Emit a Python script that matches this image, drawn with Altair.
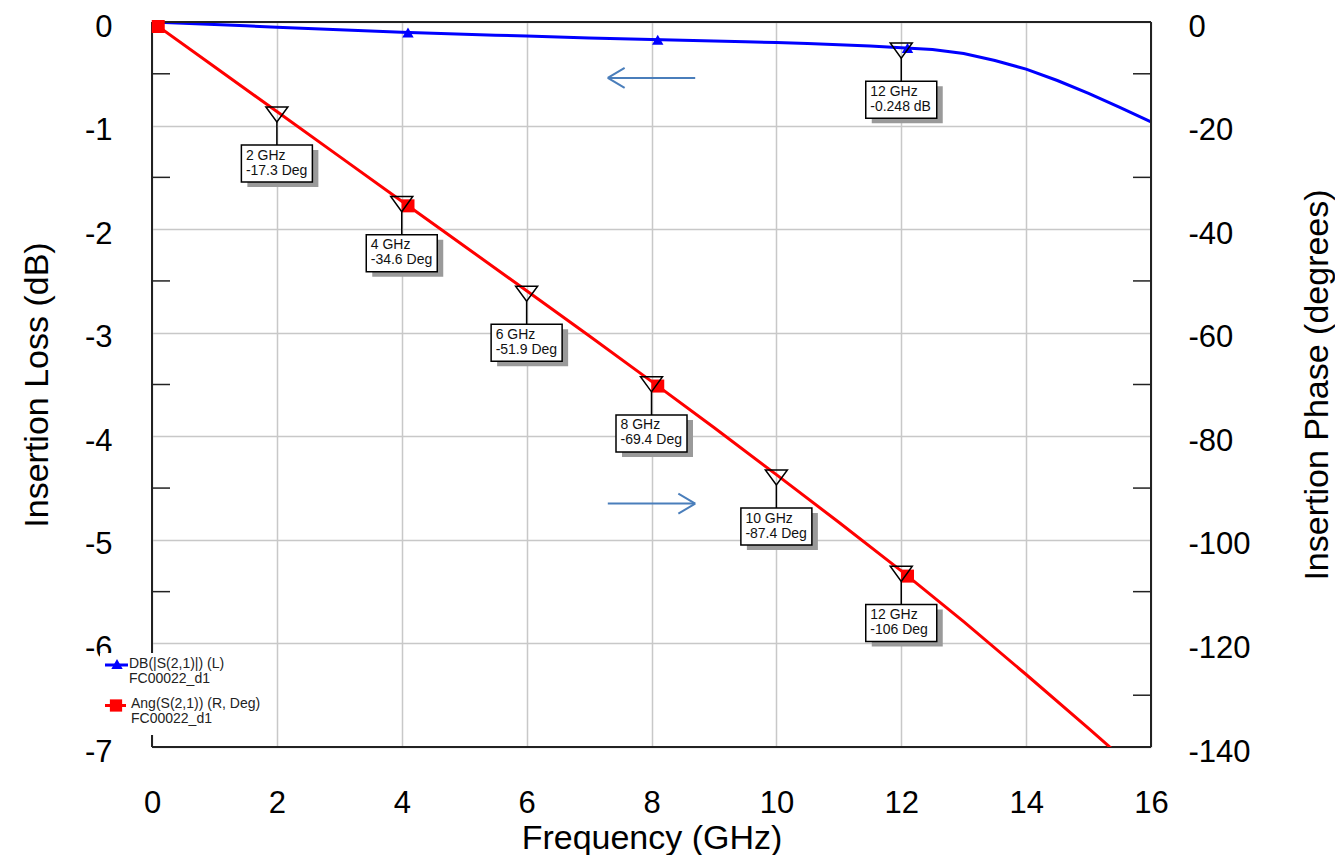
import altair as alt
import pandas as pd

FONT = "Liberation Sans"

# ---- data ----
loss_freq = [0, 0.5, 1, 1.5, 2, 2.5, 3, 3.5, 4, 4.5, 5, 5.5, 6, 6.5, 7, 7.5, 8,
             8.5, 9, 9.5, 10, 10.5, 11, 11.5, 12, 12.5, 13, 13.5, 14, 14.5, 15, 15.5, 16]
loss_db = [0, -0.012, -0.025, -0.037, -0.05, -0.062, -0.075, -0.088, -0.1, -0.109,
           -0.118, -0.127, -0.136, -0.145, -0.154, -0.162, -0.17, -0.177, -0.184,
           -0.191, -0.199, -0.208, -0.219, -0.232, -0.248, -0.266, -0.305, -0.372,
           -0.455, -0.565, -0.69, -0.825, -0.965]

phase_freq = [0, 1, 2, 3, 4, 5, 6, 7, 8, 9, 10, 11, 12, 13, 14, 15, 16]
phase_deg = [0, -8.65, -17.3, -25.95, -34.6, -43.25, -51.9, -60.6, -69.4, -78.3,
             -87.4, -96.6, -106, -115.8, -126.0, -136.4, -147.0]

loss_marker_freq = [4.1, 8.1, 12.1]
loss_marker_db = [-0.101, -0.171, -0.251]
phase_marker_freq = [0.1, 4.1, 8.1, 12.1]
phase_marker_deg = [-0.87, -35.5, -70.3, -107.0]

phase_ann_freq = [2, 4, 6, 8, 10, 12]
phase_ann_deg = [-17.3, -34.6, -51.9, -69.4, -87.4, -106]
phase_ann_text = ["2 GHz\n-17.3 Deg", "4 GHz\n-34.6 Deg", "6 GHz\n-51.9 Deg",
                  "8 GHz\n-69.4 Deg", "10 GHz\n-87.4 Deg", "12 GHz\n-106 Deg"]
loss_ann_freq = [12]
loss_ann_db = [-0.248]
loss_ann_text = ["12 GHz\n-0.248 dB"]

# direction arrows (freq, dB)
arrow_x = [7.3, 7.3, 7.3, 7.3, 8.7, 8.7]
arrow_x2 = [8.7, 7.57, 7.57, 8.7, 8.43, 8.43]
arrow_y = [-0.54, -0.54, -0.54, -4.65, -4.65, -4.65]
arrow_y2 = [-0.54, -0.443, -0.637, -4.65, -4.553, -4.747]

db_ticks = [-6.5, -5.5, -4.5, -3.5, -2.5, -1.5, -0.5]
x_ticks = [0, 2, 4, 6, 8, 10, 12, 14, 16]
db_labels = [-7, -6, -5, -4, -3, -2, -1, 0]
deg_labels = [-140, -120, -100, -80, -60, -40, -20, 0]

frame_x = [0, 0, 0, 16]
frame_x2 = [16, 16, 0, 16]
frame_y = [0, -7, -7, -7]
frame_y2 = [0, -7, 0, 0]

legend_text = ["DB(|S(2,1)|) (L)\nFC00022_d1", "Ang(S(2,1)) (R, Deg)\nFC00022_d1"]

W, H = 999, 725
HYPHEN = "datum.value < 0 ? '-' + abs(datum.value) : '' + datum.value"

xs = alt.Scale(domain=[0, 16], nice=False, zero=False)
ys_db = alt.Scale(domain=[-7, 0], nice=False, zero=False)
ys_deg = alt.Scale(domain=[-140, 0], nice=False, zero=False)

x_axis = alt.Axis(values=x_ticks, grid=True, gridColor="#c8c8c8", gridWidth=1.5,
                  ticks=False, tickSize=0, domain=False, labelFont=FONT, labelFontSize=31,
                  labelColor="black", labelPadding=41, labelFlush=False,
                  title="Frequency (GHz)", titleFont=FONT, titleFontSize=34,
                  titleFontWeight="normal", titleColor="black",
                  titleBaseline="alphabetic", titleY=101)
left_axis = alt.Axis(values=db_labels, grid=True, gridColor="#c8c8c8", gridWidth=1.5,
                     ticks=False, tickSize=0, domain=False, labelFont=FONT,
                     labelFontSize=31, labelColor="black", labelPadding=40,
                     labelOffset=5,
                     labelFlush=False, orient="left", labelExpr=HYPHEN,
                     title="Insertion Loss (dB)", titleFont=FONT, titleFontSize=34,
                     titleFontWeight="normal", titleColor="black", titleAngle=270,
                     titleBaseline="alphabetic", titleX=-105, titleY=H / 2)
right_axis = alt.Axis(values=deg_labels, grid=False, ticks=False, tickSize=0,
                      domain=False, labelFont=FONT, labelFontSize=31,
                      labelColor="black", labelPadding=37, labelOffset=5,
                      labelFlush=False,
                      orient="right", labelAlign="left", labelExpr=HYPHEN,
                      title="Insertion Phase (degrees)", titleFont=FONT,
                      titleFontSize=34, titleFontWeight="normal", titleColor="black",
                      titleAngle=270, titleBaseline="alphabetic", titleX=176,
                      titleY=H / 2)

df_loss = pd.DataFrame({"f": loss_freq, "db": loss_db})
df_phase = pd.DataFrame({"f": phase_freq, "deg": phase_deg})
df_lm = pd.DataFrame({"f": loss_marker_freq, "db": loss_marker_db})
df_pm = pd.DataFrame({"f": phase_marker_freq, "deg": phase_marker_deg})
df_pa = pd.DataFrame({"f": phase_ann_freq, "deg": phase_ann_deg, "t": phase_ann_text})
df_la = pd.DataFrame({"f": loss_ann_freq, "db": loss_ann_db, "t": loss_ann_text})
df_arrow = pd.DataFrame({"f": arrow_x, "f2": arrow_x2, "db": arrow_y, "db2": arrow_y2})
df_ticks = pd.DataFrame({"db": db_ticks})
df_frame = pd.DataFrame({"f": frame_x, "f2": frame_x2, "db": frame_y, "db2": frame_y2})

TRI = "M-1,-0.42L1,-0.42L0,0.95Z"
BOX = "M-1,-0.5211H1V0.5211H-1Z"


def X():
    return alt.X("f:Q", scale=xs, axis=x_axis)


def Ydb():
    return alt.Y("db:Q", scale=ys_db, axis=left_axis)


def Ydeg():
    return alt.Y("deg:Q", scale=ys_deg, axis=right_axis)


def annotations(df, yenc, field):
    base = alt.Chart(df).encode(x=X(), y=yenc)
    tri = base.mark_point(shape=TRI, size=484, filled=False, stroke="black",
                          strokeWidth=1.5, opacity=1)
    stem = base.mark_rule(color="black", strokeWidth=1.5, yOffset=10.4,
                          y2Offset=34).encode(y2=alt.Y2(f"{field}:Q"))
    shadow = base.mark_point(shape=BOX, size=5041, filled=True, fill="#9a9a9a",
                             strokeWidth=0, opacity=1, xOffset=6, yOffset=57)
    box = base.mark_point(shape=BOX, size=5041, filled=True, fill="white",
                          stroke="black", strokeWidth=1.5, opacity=1, yOffset=52)
    txt = base.mark_text(align="left", baseline="alphabetic", dx=-31, dy=48,
                         lineBreak="\n", lineHeight=15, font=FONT, fontSize=14,
                         color="#111").encode(text="t:N")
    return [tri, stem, shadow, box, txt]


# ---------- left (dB) layer ----------
blue_line = alt.Chart(df_loss).mark_line(color="#0000ff", strokeWidth=3).encode(
    x=X(), y=Ydb())
frame = alt.Chart(df_frame).mark_rule(color="#222", strokeWidth=2).encode(
    x=X(), x2="f2:Q", y=Ydb(), y2="db2:Q")
lticks = alt.Chart(df_ticks).mark_rule(color="#222", strokeWidth=1.5).encode(
    x=alt.value(0), x2=alt.value(18), y=Ydb())
rticks = alt.Chart(df_ticks).mark_rule(color="#222", strokeWidth=1.5).encode(
    x=alt.value(W - 18), x2=alt.value(W), y=Ydb())
blue_mk = alt.Chart(df_lm).mark_point(shape="triangle-up", size=130, filled=True,
                                      color="#0000ff", opacity=1).encode(x=X(), y=Ydb())
arrows = alt.Chart(df_arrow).mark_rule(color="#4a7ebb", strokeWidth=2).encode(
    x=X(), x2="f2:Q", y=Ydb(), y2="db2:Q")

one = alt.Data(values=[{}])
leg_bg = alt.Chart(one).mark_rect(fill="white").encode(
    x=alt.value(-52), x2=alt.value(110), y=alt.value(631), y2=alt.value(713))
leg_blue_line = alt.Chart(one).mark_rule(color="#0000ff", strokeWidth=3).encode(
    x=alt.value(-47), x2=alt.value(-24), y=alt.value(643))
leg_blue_mk = alt.Chart(one).mark_point(shape="triangle-up", size=130, filled=True,
                                        color="#0000ff", opacity=1).encode(
    x=alt.value(-35), y=alt.value(642))
leg_red_line = alt.Chart(one).mark_rule(color="#ff0000", strokeWidth=3).encode(
    x=alt.value(-47), x2=alt.value(-26), y=alt.value(683.5))
leg_red_mk = alt.Chart(one).mark_point(shape="square", size=150, filled=True,
                                       color="#ff0000", opacity=1).encode(
    x=alt.value(-36), y=alt.value(683.5))
leg_t1 = alt.Chart(one).mark_text(align="left", baseline="alphabetic", lineBreak="\n",
                                  lineHeight=15, font=FONT, fontSize=14,
                                  color="#222").encode(
    x=alt.value(-23), y=alt.value(646), text=alt.value(legend_text[0]))
leg_t2 = alt.Chart(one).mark_text(align="left", baseline="alphabetic", lineBreak="\n",
                                  lineHeight=15, font=FONT, fontSize=14,
                                  color="#222").encode(
    x=alt.value(-21), y=alt.value(686), text=alt.value(legend_text[1]))

left = alt.layer(blue_line, frame, lticks, rticks, arrows, blue_mk,
                 *annotations(df_la, Ydb(), "db"))

# ---------- right (degrees) layer ----------
red_line = alt.Chart(df_phase).mark_line(color="#ff0000", strokeWidth=3, clip=True).encode(
    x=X(), y=Ydeg())
red_mk = alt.Chart(df_pm).mark_point(shape="square", size=169, filled=True,
                                     color="#ff0000", opacity=1).encode(x=X(), y=Ydeg())

right = alt.layer(red_line, red_mk, *annotations(df_pa, Ydeg(), "deg"),
                  leg_bg, leg_blue_line, leg_blue_mk, leg_red_line, leg_red_mk,
                  leg_t1, leg_t2)

chart = alt.layer(left, right).resolve_scale(y="independent").properties(
    width=W, height=H,
    padding={"left": 144, "top": 14, "right": 184, "bottom": 108},
    autosize=alt.AutoSizeParams(type="none"),
).configure_view(stroke=None).configure(background="white")

chart.save("out.html", embed_options={"renderer": "svg", "actions": False})
